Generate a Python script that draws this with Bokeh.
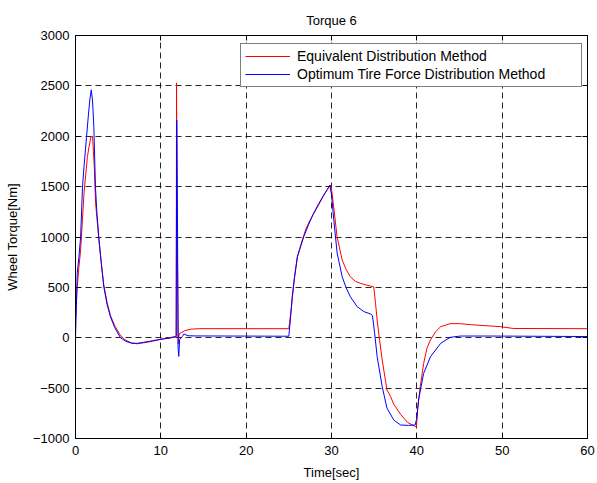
from bokeh.plotting import figure
from bokeh.models import LinearAxis, Range1d, FixedTicker, Legend, LegendItem, CustomJSTickFormatter
from bokeh.embed import file_html
from bokeh.resources import INLINE

# ---- data ----
t_equiv = [0, 0.2, 0.4, 0.6, 0.8, 1.0, 1.2, 1.4, 1.6, 1.8, 2.0, 2.1, 2.2, 2.35, 2.5, 2.75, 3.0, 3.3,
           3.7, 4.1, 4.6, 5.2, 5.8, 6.5, 7.2, 8.0, 9.0, 10.0, 11.0, 11.8, 11.84, 11.9, 11.95, 12.05,
           12.15, 12.4, 12.8, 13.5, 14.5, 25.0, 25.3, 25.6, 26.0, 26.5, 27.0, 27.5, 28.0, 28.5, 29.0,
           29.5, 29.85, 30.0, 30.3, 30.65, 31.25, 31.7, 32.2, 32.8, 33.4, 34.0, 34.6, 34.95, 35.15,
           35.35, 35.6, 35.94, 36.5, 36.9, 37.3, 38.1, 38.9, 39.7, 39.95, 40.1, 40.4, 40.8, 41.2,
           41.6, 42.2, 42.8, 43.9, 45.0, 46.3, 48.0, 49.8, 51.3, 60.0]
equiv = [200, 500, 700, 870, 1150, 1440, 1620, 1800, 1900, 1990, 2000, 1850, 1700, 1340, 1200, 960,
         760, 530, 350, 220, 120, 30, -20, -50, -60, -50, -35, -15, 0, 15, 2530, 1450, 800, -60,
         40, 50, 70, 85, 90, 90, 300, 560, 800, 950, 1080, 1170, 1245, 1320, 1400,
         1470, 1515, 1480, 1268, 1003, 772, 680, 606, 560, 540, 525, 513, 505, 350,
         176, 0, -220, -518, -580, -660, -760, -840, -876, -885, -700, -485, -254, -100,
         -22, 60, 110, 140, 140, 130, 120, 110, 92, 90]

t_opt = [0, 0.1, 0.2, 0.4, 0.6, 0.82, 1.0, 1.29, 1.5, 1.7, 1.85, 2.0, 2.15, 2.34, 2.5, 2.73, 3.0,
         3.32, 3.7, 4.1, 4.6, 5.27, 5.9, 6.6, 7.3, 8.0, 9.0, 10.0, 11.1, 11.8, 11.86, 11.95, 12.02,
         12.1, 12.2, 12.5, 12.7, 13.2, 14.0, 25.0, 25.2, 25.4, 25.7, 26.0, 26.75, 27.3, 27.9, 28.5,
         29.1, 29.5, 29.8, 30.0, 30.27, 30.66, 31.25, 31.7, 32.2, 33.0, 33.8, 34.6, 34.8, 35.05,
         35.35, 35.94, 36.5, 37.3, 38.1, 39.0, 39.8, 40.0, 40.2, 40.8, 41.6, 42.8, 43.9, 45.1,
         48.6, 60.0]
opt = [0, 300, 640, 800, 1000, 1495, 1700, 1990, 2200, 2380, 2460, 2350, 2090, 1495, 1250, 1000, 760,
       504, 330, 206, 100, 0, -35, -55, -55, -45, -30, -15, -3, 10, 2160, 1200, -100,
       -185, -20, 10, 37, 20, 18, 15, 200, 408, 620, 805, 1003, 1120, 1235, 1330,
       1417, 1470, 1516, 1420, 1168, 841, 606, 500, 408, 309, 259, 235, 220, 50,
       -187, -485, -698, -817, -866, -870, -866, -800, -618, -353, -188, -55, 4, 17,
       17, 12]

x_ticks = [0, 10, 20, 30, 40, 50, 60]
y_ticks = [-1000, -500, 0, 500, 1000, 1500, 2000, 2500, 3000]

FONT = "Liberation Sans"

p = figure(frame_width=512, frame_height=403, output_backend="svg", toolbar_location=None,
           x_range=Range1d(0, 60), y_range=Range1d(-1000, 3000),
           min_border_left=75, min_border_right=10, min_border_top=35, min_border_bottom=45,
           background_fill_color="white", border_fill_color="white")

p.title.text = "Torque 6"
p.title.align = "center"
p.title.text_font = FONT
p.title.text_font_size = "13px"
p.title.text_font_style = "normal"
p.title.text_color = "black"
p.title.standoff = 15

p.outline_line_color = "black"
p.outline_line_width = 1

for ax, ticks in ((p.xaxis[0], x_ticks), (p.yaxis[0], y_ticks)):
    ax.ticker = FixedTicker(ticks=ticks)
    ax.major_tick_in = 5
    ax.major_tick_out = 0
    ax.minor_tick_line_color = None
    ax.axis_line_color = "black"
    ax.major_tick_line_color = "black"
    ax.major_label_text_font = FONT
    ax.major_label_text_font_size = "13px"
    ax.major_label_text_color = "black"
    ax.axis_label_text_font = FONT
    ax.axis_label_text_font_size = "13px"
    ax.axis_label_text_font_style = "normal"
    ax.axis_label_text_color = "black"

p.xaxis.axis_label = "Time[sec]"
p.yaxis.axis_label = "Wheel Torque[Nm]"
p.xaxis.major_label_standoff = 7
p.yaxis.major_label_standoff = 6
p.xaxis.axis_label_standoff = 7
p.yaxis.axis_label_standoff = 10

empty = CustomJSTickFormatter(code="return '';")
top = LinearAxis(ticker=FixedTicker(ticks=x_ticks), formatter=empty, major_tick_in=5,
                 major_tick_out=0, minor_tick_line_color=None, axis_line_color="black",
                 major_label_standoff=0, major_label_text_font_size="1px")
right = LinearAxis(ticker=FixedTicker(ticks=y_ticks), formatter=empty, major_tick_in=5,
                   major_tick_out=0, minor_tick_line_color=None, axis_line_color="black",
                   major_label_standoff=0, major_label_text_font_size="1px")
p.add_layout(top, "above")
p.add_layout(right, "right")

p.xgrid.ticker = FixedTicker(ticks=x_ticks)
p.ygrid.ticker = FixedTicker(ticks=y_ticks)
for g in (p.xgrid[0], p.ygrid[0]):
    g.grid_line_color = "black"
    g.grid_line_dash = "6 4"
    g.grid_line_width = 1
    g.grid_line_alpha = 0.85

r1 = p.line(t_equiv, equiv, line_color="#ff0000", line_width=1)
r2 = p.line(t_opt, opt, line_color="#0000ff", line_width=1)

legend = Legend(items=[LegendItem(label="Equivalent Distribution Method", renderers=[r1]),
                       LegendItem(label="Optimum Tire Force Distribution Method", renderers=[r2])],
                location=(165, 351), border_line_color="black", border_line_width=1,
                background_fill_color="white", background_fill_alpha=1,
                label_text_font=FONT, label_text_font_size="14px", label_text_color="black",
                glyph_width=45, glyph_height=16, label_height=16, label_standoff=7,
                label_width=280, padding=4, spacing=2, margin=0)
p.add_layout(legend, "center")

open("out.html", "w").write(file_html(p, INLINE))
